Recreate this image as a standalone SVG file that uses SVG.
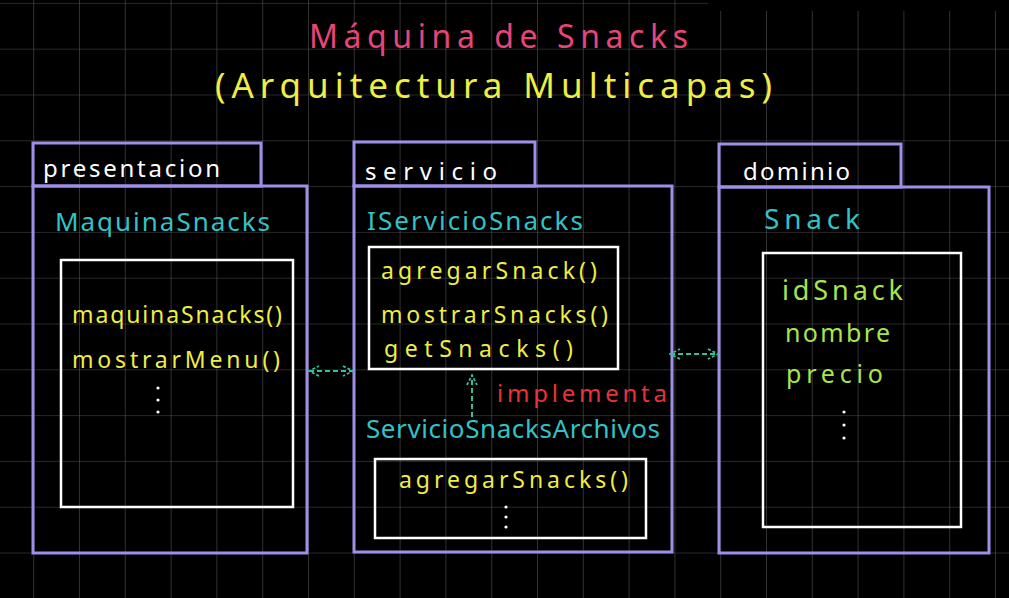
<svg xmlns="http://www.w3.org/2000/svg" width="1009" height="598" viewBox="0 0 1009 598">
<defs>
<pattern id="grid" x="-12.6" y="2.9" width="45.8" height="45.8" patternUnits="userSpaceOnUse">
<path d="M0 0 H45.8 M0 0 V45.8" fill="none" stroke="#505050" stroke-width="1.2"/>
</pattern>
<marker id="head" viewBox="0 0 12 12" refX="11" refY="6" markerWidth="12" markerHeight="12" markerUnits="userSpaceOnUse" orient="auto-start-reverse">
<path d="M1 1 L11 6 L1 11" fill="none" stroke="#36bf9c" stroke-width="1.8" stroke-dasharray="3 2"/>
</marker>
<style>
.pkg{fill:none;stroke:#9f8fe8;stroke-width:3}
.cls{fill:none;stroke:#ffffff;stroke-width:2.5}
.t{font-family:"Noto Sans","DejaVu Sans",sans-serif}
.w{fill:#ffffff;font-size:24px}
.c{fill:#33c2c6;font-size:26px}
.y{fill:#eeee44;font-size:23px}
.g{fill:#a8e44c;font-size:25px}
.dot{fill:#ffffff}
.con{fill:none;stroke:#36bf9c;stroke-width:2;stroke-dasharray:5 3}
</style>
</defs>
<rect width="1009" height="598" fill="#000"/>
<rect width="1009" height="598" fill="url(#grid)"/>
<rect x="708" y="0" width="301" height="11" fill="#000"/>

<g id="title" class="t">
<text x="309" y="48" textLength="379" lengthAdjust="spacing" style="fill:#e6457a;font-size:32px">Máquina de Snacks</text>
<text x="215" y="98" textLength="557" lengthAdjust="spacing" style="fill:#eeee44;font-size:35px">(Arquitectura Multicapas)</text>
</g>

<g id="presentacion">
<rect class="pkg" x="33" y="143" width="228" height="43"/>
<rect class="pkg" x="33" y="186" width="274" height="367"/>
<text class="t w" x="43" y="177" textLength="177" lengthAdjust="spacing">presentacion</text>
<g id="MaquinaSnacks">
<text class="t c" x="55" y="231" textLength="215" lengthAdjust="spacing">MaquinaSnacks</text>
<rect class="cls" x="61" y="260" width="232" height="247"/>
<text class="t y" x="72" y="323" textLength="210" lengthAdjust="spacing">maquinaSnacks()</text>
<text class="t y" x="72" y="368" textLength="208" lengthAdjust="spacing">mostrarMenu()</text>
<circle class="dot" cx="158" cy="388" r="1.6"/>
<circle class="dot" cx="158" cy="400" r="1.6"/>
<circle class="dot" cx="158" cy="412" r="1.6"/>
</g>
</g>

<g id="servicio">
<rect class="pkg" x="354" y="142" width="181" height="44"/>
<rect class="pkg" x="354" y="186" width="318" height="366"/>
<text class="t w" x="365" y="180" textLength="132" lengthAdjust="spacing">servicio</text>
<g id="IServicioSnacks">
<text class="t c" x="367" y="230" textLength="216" lengthAdjust="spacing">IServicioSnacks</text>
<rect class="cls" x="369" y="247" width="249" height="122"/>
<text class="t y" x="381" y="279" textLength="216" lengthAdjust="spacing">agregarSnack()</text>
<text class="t y" x="381" y="323" textLength="227" lengthAdjust="spacing">mostrarSnacks()</text>
<text class="t y" x="384" y="357" textLength="189" lengthAdjust="spacing">getSnacks()</text>
</g>
<g id="ServicioSnacksArchivos">
<text class="t c" x="366" y="438" textLength="294" lengthAdjust="spacing">ServicioSnacksArchivos</text>
<rect class="cls" x="375" y="459" width="271" height="79"/>
<text class="t y" x="399" y="488" textLength="229" lengthAdjust="spacing">agregarSnacks()</text>
<circle class="dot" cx="506" cy="507" r="1.6"/>
<circle class="dot" cx="506" cy="517" r="1.6"/>
<circle class="dot" cx="506" cy="527" r="1.6"/>
</g>
</g>

<g id="dominio">
<rect class="pkg" x="719" y="144" width="182" height="43"/>
<rect class="pkg" x="719" y="187" width="270" height="366"/>
<text class="t w" x="743" y="180" textLength="107" lengthAdjust="spacing">dominio</text>
<g id="Snack">
<text class="t c" x="764" y="229" textLength="96" lengthAdjust="spacing" style="font-size:28px">Snack</text>
<rect class="cls" x="763" y="253" width="198" height="274"/>
<text class="t g" x="782" y="300" textLength="121" lengthAdjust="spacing" style="font-size:27px">idSnack</text>
<text class="t g" x="785" y="342" textLength="105" lengthAdjust="spacing">nombre</text>
<text class="t g" x="786" y="383" textLength="97" lengthAdjust="spacing">precio</text>
<circle class="dot" cx="844" cy="412" r="1.6"/>
<circle class="dot" cx="844" cy="425" r="1.6"/>
<circle class="dot" cx="844" cy="438" r="1.6"/>
</g>
</g>

<g id="connectors">
<line class="con" x1="309" y1="371" x2="353" y2="371" marker-start="url(#head)" marker-end="url(#head)"/>
<line class="con" x1="670" y1="354" x2="718" y2="354" marker-start="url(#head)" marker-end="url(#head)"/>
<line class="con" x1="472" y1="417" x2="472" y2="375" marker-end="url(#head)"/>
<text class="t" x="497" y="402" textLength="170" lengthAdjust="spacing" style="fill:#e8323c;font-size:24px">implementa</text>
</g>
</svg>
